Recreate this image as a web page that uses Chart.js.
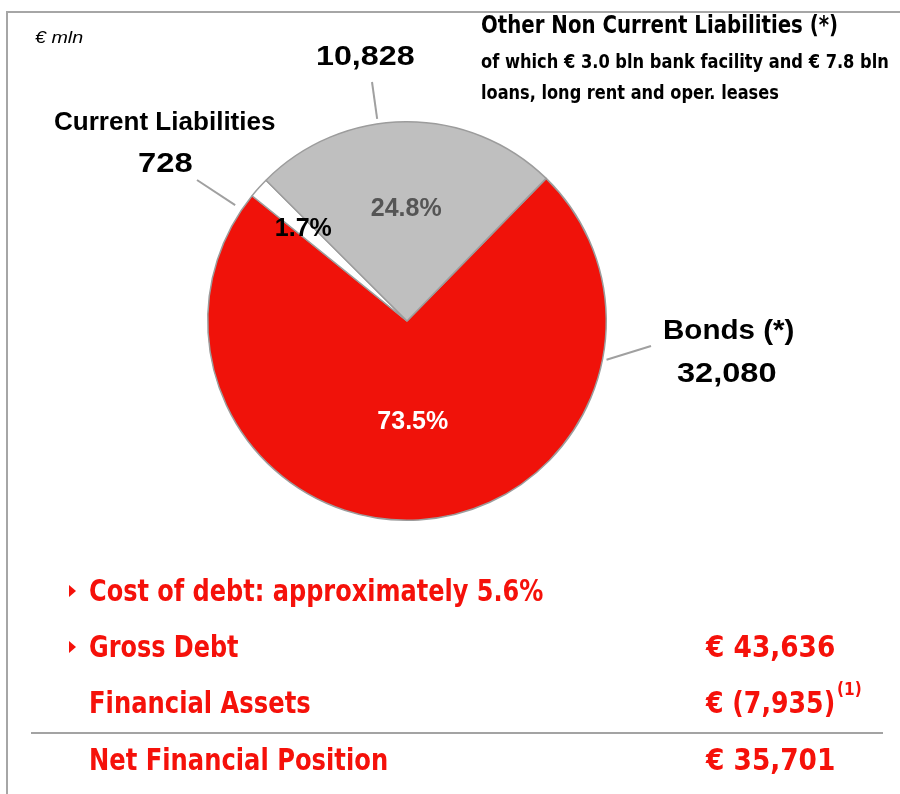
<!DOCTYPE html>
<html>
<head>
<meta charset="utf-8">
<script src="https://cdn.jsdelivr.net/npm/chart.js@4"></script>
<style>
html, body { margin: 0; padding: 0; background: #fff; }
#wrap { position: relative; width: 900px; height: 794px; overflow: hidden; }
#c { position: absolute; left: 0; top: 0; }
.frameTop { position: absolute; left: 6px; top: 11px; width: 894px; border-top: 2px solid #a6a6a6; }
.frameLeft { position: absolute; left: 6px; top: 11px; height: 783px; border-left: 2px solid #a6a6a6; }
.rule { position: absolute; left: 31px; top: 732px; width: 852px; border-top: 2px solid #a3a3a3; }
.t { position: absolute; white-space: nowrap; line-height: 1; font-weight: bold; transform-origin: 0 0; }
.wide { font-family: "Liberation Sans", Arial, sans-serif; }
.narrow { font-family: "Liberation Sans Narrow", "Arial Narrow", "DejaVu Sans Condensed", "Liberation Sans", sans-serif; }
.it { font-family: "Liberation Sans", Arial, sans-serif; font-style: italic; font-weight: normal; }
.red { color: #f5110a; }
.bullet { position: absolute; width: 0; height: 0; border-left: 7px solid #f5110a; border-top: 6px solid transparent; border-bottom: 6px solid transparent; }
</style>
</head>
<body>
<div id="wrap">
  <canvas id="c" width="900" height="794"></canvas>
  <div class="frameTop"></div>
  <div class="frameLeft"></div>
  <div class="rule"></div>
</div>
<script>
// gross debt breakdown, € mln
const categories = ['Bonds (*)', 'Current Liabilities', 'Other Non Current Liabilities (*)'];
const amounts = [32080, 728, 10828];
const otherNote = ['of which € 3.0 bln bank facility and € 7.8 bln', 'loans, long rent and oper. leases'];

const costOfDebt = 5.6;
const financialAssets = 7935;
const summaryLabels = ['Gross Debt', 'Financial Assets', 'Net Financial Position'];

const fillColors = ['#f0120a', '#ffffff', '#bfbfbf'];
const pctColors = ['#ffffff', '#000000', '#555555'];

// label layout (per slice)
const pctRadius = [0.5, 0.7, 0.57];
const leaders = [
    { deg: 101, gap: 4, to: [651, 346] },
    { deg: 304, gap: 8, to: [197, 180] },
    { deg: 351.6, gap: 5, to: [372, 82] }
];
const nameSpots = [
    { x: 728, y: 330, s: 28, w: 131, cls: 'wide', anchor: 'c' },
    { x: 165, y: 121, s: 25, w: 222, cls: 'wide', anchor: 'c' },
    { x: 481, y: 25, s: 24, w: 357, cls: 'narrow', anchor: 'l' }
];
const valueSpots = [
    { x: 727, y: 373, s: 28, w: 100 },
    { x: 165, y: 163, s: 28, w: 55 },
    { x: 365, y: 56, s: 28, w: 99 }
];

const wrap = document.getElementById('wrap');
const fmt = v => v.toLocaleString('en-US');

function put(text, x, y, size, width, cls, anchor, color) {
    const el = document.createElement('div');
    el.className = 't ' + cls;
    el.textContent = text;
    el.style.fontSize = size + 'px';
    if (color) el.style.color = color;
    wrap.appendChild(el);
    const natural = el.offsetWidth;
    const k = width ? width / natural : 1;
    const w = natural * k;
    const left = anchor === 'c' ? x - w / 2 : anchor === 'r' ? x - w : x;
    el.style.left = left + 'px';
    el.style.top = (y - el.offsetHeight / 2) + 'px';
    el.style.transform = 'scaleX(' + k + ')';
    return el;
}

const leaderLines = {
    id: 'leaderLines',
    afterDatasetsDraw(chart) {
        const arc = chart.getDatasetMeta(0).data[0];
        const ctx = chart.ctx;
        ctx.save();
        ctx.strokeStyle = '#a0a0a0';
        ctx.lineWidth = 2;
        leaders.forEach(l => {
            const a = (l.deg - 90) * Math.PI / 180;
            const r = arc.outerRadius + l.gap;
            ctx.beginPath();
            ctx.moveTo(arc.x + Math.cos(a) * r, arc.y + Math.sin(a) * r);
            ctx.lineTo(l.to[0], l.to[1]);
            ctx.stroke();
        });
        ctx.restore();
    }
};

const chart = new Chart(document.getElementById('c'), {
    type: 'pie',
    data: {
        labels: categories,
        datasets: [{
            data: amounts,
            backgroundColor: fillColors,
            borderColor: '#9c9c9c',
            borderWidth: 1.5
        }]
    },
    options: {
        responsive: false,
        animation: false,
        rotation: 44.3,
        layout: { padding: { left: 207, right: 293, top: 121, bottom: 273 } },
        plugins: { legend: { display: false }, tooltip: { enabled: false } }
    },
    plugins: [leaderLines]
});

// percentage labels inside the slices
const total = amounts.reduce((a, b) => a + b, 0);
chart.getDatasetMeta(0).data.forEach((arc, i) => {
    const mid = (arc.startAngle + arc.endAngle) / 2;
    const r = arc.outerRadius * pctRadius[i];
    const pct = (amounts[i] / total * 100).toFixed(1) + '%';
    put(pct, arc.x + Math.cos(mid) * r, arc.y + Math.sin(mid) * r, 25, null, 'wide', 'c', pctColors[i]);
});

// slice names and values
categories.forEach((name, i) => {
    const n = nameSpots[i], v = valueSpots[i];
    put(name, n.x, n.y, n.s, n.w, n.cls, n.anchor, '#000');
    put(fmt(amounts[i]), v.x, v.y, v.s, v.w, 'wide', 'c', '#000');
});
put(otherNote[0], 481, 61, 19, 408, 'narrow', 'l', '#000');
put(otherNote[1], 481, 92, 19, 298, 'narrow', 'l', '#000');
put('€ mln', 35, 38, 16, 48, 'it', 'l', '#000');

// summary block
const gross = total;
const net = gross - financialAssets;
put('Cost of debt: approximately ' + costOfDebt.toFixed(1) + '%', 89, 591, 30, 454, 'narrow red', 'l');
put(summaryLabels[0], 89, 647, 30, 150, 'narrow red', 'l');
put('€ ' + fmt(gross), 706, 647, 30, 129, 'narrow red', 'l');
put(summaryLabels[1], 89, 703, 30, 222, 'narrow red', 'l');
put('€ (' + fmt(financialAssets) + ')', 706, 703, 30, 129, 'narrow red', 'l');
put('(1)', 837, 689, 17, 25, 'narrow red', 'l');
put(summaryLabels[2], 89, 760, 30, 299, 'narrow red', 'l');
put('€ ' + fmt(net), 706, 760, 30, 129, 'narrow red', 'l');

[591, 647].forEach(y => {
    const b = document.createElement('div');
    b.className = 'bullet';
    b.style.left = '69px';
    b.style.top = (y - 6) + 'px';
    wrap.appendChild(b);
});
</script>
</body>
</html>
